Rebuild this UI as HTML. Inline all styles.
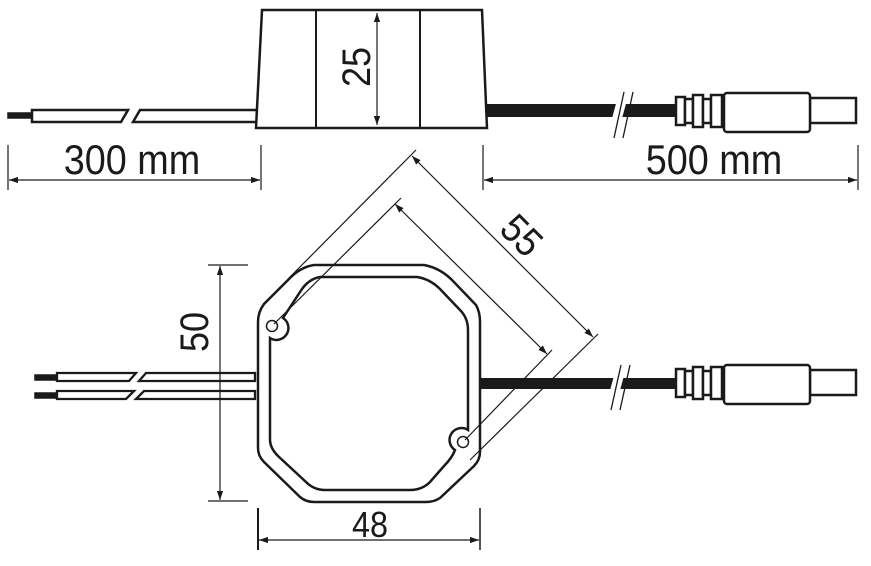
<!DOCTYPE html>
<html><head><meta charset="utf-8"><style>
html,body{margin:0;padding:0;background:#fff;}
svg{display:block;}
text{font-family:"Liberation Sans",sans-serif;fill:#1a1a1a;}
</style></head><body>
<svg width="871" height="566" viewBox="0 0 871 566" xmlns="http://www.w3.org/2000/svg">
<defs>
<marker id="a" viewBox="0 0 10 10" refX="10" refY="5" markerWidth="9" markerHeight="9" orient="auto-start-reverse" markerUnits="userSpaceOnUse"><path d="M0,1.5 L10,5 L0,8.5 Z" fill="#1a1a1a"/></marker>
</defs>
<g stroke="#1a1a1a" fill="none">
<rect x="8" y="113" width="24" height="5" fill="#1a1a1a" stroke-width="1.5"/>
<path d="M32,110 L128,110 L121,122 L32,122 Z" fill="#fff" stroke-width="2.5"/>
<path d="M140,110 L257,110 L257,122 L133,122 Z" fill="#fff" stroke-width="2.5"/>
<path d="M262,10 L482,10 L487,128 L256,128 Z" fill="#fff" stroke-width="2.5"/>
<line x1="316" y1="10" x2="316" y2="128" stroke-width="2"/>
<line x1="420" y1="10" x2="420" y2="128" stroke-width="2"/>
<line x1="377" y1="13" x2="377" y2="125" stroke-width="1.2" marker-start="url(#a)" marker-end="url(#a)"/>
<rect x="487" y="104" width="190" height="13" fill="#1a1a1a" stroke="none"/>
<polygon points="617,100 627,100 621,122 611,122" fill="#fff" stroke="none"/>
<line x1="614" y1="138" x2="624" y2="92" stroke-width="1.3"/>
<line x1="623" y1="138" x2="633" y2="92" stroke-width="1.3"/>
<g fill="#fff" stroke-width="2.5">
<rect x="676" y="97" width="9" height="28"/>
<rect x="685" y="99" width="8" height="24"/>
<rect x="693" y="95" width="10" height="32"/>
<rect x="703" y="99" width="8" height="24"/>
<rect x="711" y="95" width="11" height="32"/>
<rect x="810" y="98" width="46" height="25"/>
<rect x="724" y="93" width="86" height="39" rx="3"/>
</g>
<line x1="8" y1="145" x2="8" y2="190" stroke-width="1.2"/>
<line x1="261" y1="145" x2="261" y2="190" stroke-width="1.2"/>
<line x1="9" y1="180" x2="260" y2="180" stroke-width="1.2" marker-start="url(#a)" marker-end="url(#a)"/>
<line x1="483" y1="145" x2="483" y2="190" stroke-width="1.2"/>
<line x1="858" y1="145" x2="858" y2="190" stroke-width="1.2"/>
<line x1="484" y1="180" x2="857" y2="180" stroke-width="1.2" marker-start="url(#a)" marker-end="url(#a)"/>

<rect x="35" y="375" width="22" height="5" fill="#1a1a1a" stroke-width="1.5"/>
<path d="M57,373 L136,373 L129,381 L57,381 Z" fill="#fff" stroke-width="2.3"/>
<path d="M146,373 L255,373 L255,381 L139,381 Z" fill="#fff" stroke-width="2.3"/>
<rect x="35" y="393" width="22" height="5" fill="#1a1a1a" stroke-width="1.5"/>
<path d="M57,391 L134,391 L126,399 L57,399 Z" fill="#fff" stroke-width="2.3"/>
<path d="M144,391 L255,391 L255,399 L136,399 Z" fill="#fff" stroke-width="2.3"/>
<rect x="480" y="378" width="197" height="11" fill="#1a1a1a" stroke="none"/>
<polygon points="615,372 625,372 619,394 609,394" fill="#fff" stroke="none"/>
<line x1="611" y1="410" x2="621" y2="365" stroke-width="1.3"/>
<line x1="620" y1="410" x2="630" y2="365" stroke-width="1.3"/>
<g fill="#fff" stroke-width="2.5">
<rect x="676" y="369" width="9" height="28"/>
<rect x="685" y="371" width="8" height="24"/>
<rect x="693" y="367" width="10" height="32"/>
<rect x="703" y="371" width="8" height="24"/>
<rect x="711" y="367" width="11" height="32"/>
<rect x="810" y="370" width="46" height="25"/>
<rect x="724" y="365" width="86" height="39" rx="3"/>
</g>
<path d="M314,265 L424,265 Q440,268 452,280 L476,305 Q480,312 480,322 L480,452 Q480,460 474,466 L440,498 Q434,502 426,502 L314,502 Q306,502 300,497 L264,462 Q258,456 258,448 L258,322 Q258,312 264,304 L288,280 Q300,267 314,265 Z" fill="#fff" stroke-width="2.5"/>
<path d="M320,277 L417,277 Q430,279 440,289 L460,310 Q468,318 468,330 L468,430 A10,10 0 0 0 455,450 Q452,458 444,466 L430,482 Q422,490 410,490 L325,490 Q314,490 306,482 L278,456 Q270,448 270,440 L270,338 A10,10 0 0 0 283,318 L300,292 Q308,279 320,277 Z" fill="#fff" stroke-width="2.5"/>
<circle cx="272" cy="326" r="5.5" stroke-width="1.5"/>
<circle cx="463" cy="442" r="5.5" stroke-width="1.5"/>
<line x1="208" y1="265" x2="248" y2="265" stroke-width="1.2"/>
<line x1="208" y1="501" x2="248" y2="501" stroke-width="1.2"/>
<line x1="220" y1="266" x2="220" y2="500" stroke-width="1.2" marker-start="url(#a)" marker-end="url(#a)"/>
<line x1="258" y1="508" x2="258" y2="550" stroke-width="2"/>
<line x1="480" y1="508" x2="480" y2="550" stroke-width="1.5"/>
<line x1="259" y1="540" x2="479" y2="540" stroke-width="1.2" marker-start="url(#a)" marker-end="url(#a)"/>
<line x1="416" y1="150" x2="290" y2="277" stroke-width="1.2"/>
<line x1="401" y1="198" x2="274" y2="324" stroke-width="1.2"/>
<line x1="598" y1="334" x2="470" y2="460" stroke-width="1.2"/>
<line x1="552" y1="350" x2="465" y2="440" stroke-width="1.2"/>
<line x1="412" y1="156" x2="593" y2="337" stroke-width="1.2" marker-start="url(#a)" marker-end="url(#a)"/>
<line x1="395" y1="204" x2="547" y2="354" stroke-width="1.2" marker-start="url(#a)" marker-end="url(#a)"/>
</g>
<text x="0" y="0" font-size="42" text-anchor="middle" transform="translate(132,174) scale(0.9,1)">300 mm</text>
<text x="0" y="0" font-size="42" text-anchor="middle" transform="translate(714,174) scale(0.9,1)">500 mm</text>
<text x="0" y="0" font-size="40" text-anchor="middle" transform="translate(370,67) rotate(-90) scale(0.9,1)">25</text>
<text x="0" y="0" font-size="40" text-anchor="middle" transform="translate(208,332) rotate(-90) scale(0.9,1)">50</text>
<text x="0" y="0" font-size="36" text-anchor="middle" transform="translate(370,537) scale(0.9,1)">48</text>
<text x="0" y="0" font-size="40" text-anchor="middle" transform="translate(512,245) rotate(45) scale(0.9,1)">55</text>
</svg>
</body></html>
